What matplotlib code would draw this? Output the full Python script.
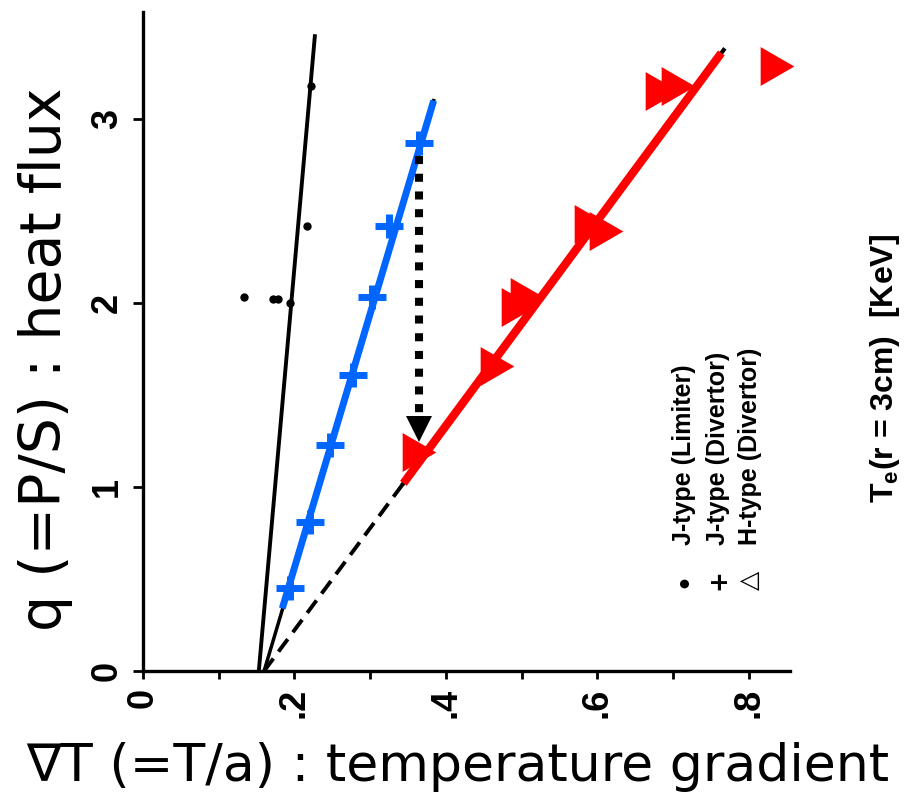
import numpy as np
import matplotlib
matplotlib.use("Agg")
import matplotlib.pyplot as plt
from matplotlib.path import Path

# heat flux q vs temperature gradient, three discharge types
# J-type (Limiter): points and fitted line
lim_grad = [0.134, 0.172, 0.178, 0.194, 0.216, 0.222]
lim_flux = [2.03, 2.02, 2.02, 2.00, 2.42, 3.18]
lim_fit_grad = [0.153, 0.227]
lim_fit_flux = [0.0, 3.45]

# J-type (Divertor)
div_grad = [0.194, 0.221, 0.247, 0.278, 0.303, 0.325, 0.365]
div_flux = [0.45, 0.81, 1.23, 1.61, 2.03, 2.42, 2.87]
div_fit_grad = [0.160, 0.184, 0.384]
div_fit_flux = [0.0, 0.34, 3.10]

# H-type (Divertor)
h_grad = [0.364, 0.467, 0.496, 0.507, 0.592, 0.612, 0.685, 0.707, 0.837]
h_flux = [1.19, 1.66, 1.98, 2.03, 2.43, 2.39, 3.15, 3.18, 3.29]
h_fit_grad = [0.160, 0.344, 0.767]
h_fit_flux = [0.0, 1.02, 3.375]

# J -> H shift at constant gradient
arrow_grad = 0.364
arrow_flux = [2.80, 1.315]

xticks = [0, 0.2, 0.4, 0.6, 0.8]
xtick_labels = ["0", ".2", ".4", ".6", ".8"]
xminor = [0.1, 0.3, 0.5, 0.7]
yticks = [0, 1, 2, 3]
ytick_labels = ["0", "1", "2", "3"]

legend_labels = ["J-type (Limiter)", "J-type (Divertor)", "H-type (Divertor)"]
legend_symbols = ["\u2022", "+", "\u25b3"]

plt.rcParams["font.family"] = ["Liberation Sans", "DejaVu Sans"]
plt.rcParams["mathtext.fontset"] = "custom"
plt.rcParams["mathtext.rm"] = "Liberation Sans"
plt.rcParams["mathtext.bf"] = "Liberation Sans:bold"

W, H = 906, 797
fig = plt.figure(figsize=(W / 100, H / 100), dpi=100)


def fx(x):
    return x / W


def fy(y):
    return 1 - y / H


ax = fig.add_axes([fx(143), fy(671), (790 - 143) / W, (671 - 12) / H])
ax.set_xlim(0, (790 - 143) / 757)
ax.set_ylim(0, (671 - 12) / 184)
for s in ["top", "right"]:
    ax.spines[s].set_visible(False)
for s in ["left", "bottom"]:
    ax.spines[s].set_linewidth(2.4)

ax.set_xticks(xticks)
ax.set_xticklabels(xtick_labels, rotation=90, fontsize=26, fontweight="bold")
ax.set_xticks(xminor, minor=True)
ax.set_yticks(yticks)
ax.set_yticklabels(ytick_labels, rotation=90, fontsize=26, fontweight="bold",
                   va="center")
ax.tick_params(axis="x", which="both", direction="out", length=6, width=2, pad=6)
ax.tick_params(axis="y", direction="out", length=7, width=2, pad=6)

tri = Path([(-0.433, 0.5), (0.433, 0.0), (-0.433, -0.5), (-0.433, 0.5)],
           [Path.MOVETO, Path.LINETO, Path.LINETO, Path.CLOSEPOLY])
cross = Path([(-0.5, 0), (0.5, 0), (0, -0.43), (0, 0.43)],
             [Path.MOVETO, Path.LINETO, Path.MOVETO, Path.LINETO])

# limiter: black fit line and dots
ax.plot(lim_fit_grad, lim_fit_flux, color="black", lw=2.8, clip_on=False, zorder=2)
ax.plot(lim_grad, lim_flux, "o", color="black", ms=6, mew=0, clip_on=False, zorder=2)

# divertor J-type: thin black fit, blue overlay, blue crosses
ax.plot([div_fit_grad[0], div_fit_grad[2]], [div_fit_flux[0], div_fit_flux[2]],
        color="black", lw=2.5, clip_on=False, zorder=2)
ax.plot(div_fit_grad[1:], div_fit_flux[1:], color="#0066ff", lw=5,
        solid_capstyle="butt", clip_on=False, zorder=3)
ax.plot(div_grad, div_flux, ls="none", marker=cross, color="#0066ff", ms=20,
        mew=5, clip_on=False, zorder=5)

# H-type: dashed extrapolation to origin, red fit, red triangles
ax.plot(h_fit_grad[:2], h_fit_flux[:2], color="black", lw=2.8, ls=(0, (4, 2.2)),
        clip_on=False, zorder=2)
ax.plot(h_fit_grad[1:], h_fit_flux[1:], color="black", lw=3, clip_on=False, zorder=2)
ax.plot([h_fit_grad[1], h_fit_grad[2] - 0.003], [h_fit_flux[1], h_fit_flux[2] - 0.016],
        color="red", lw=6, solid_capstyle="butt", clip_on=False, zorder=3)
ax.plot(h_grad, h_flux, ls="none", marker=tri, color="red", ms=28, mew=0,
        clip_on=False, zorder=5)

# dotted arrow
ax.plot([arrow_grad, arrow_grad], [arrow_flux[0], arrow_flux[1] + 0.06], color="black",
        lw=5.8, ls=(0, (1, 1.2)), dash_capstyle="butt", clip_on=False, zorder=4)
ax.plot([arrow_grad], [arrow_flux[1]], marker="v", color="black", ms=19, mew=0,
        clip_on=False, zorder=4)

# legend columns
leg_x = [684, 718, 750]
for xx, lab, sym in zip(leg_x, legend_labels, legend_symbols):
    fig.text(fx(xx), fy(545), lab, rotation=90, ha="center", va="bottom",
             fontsize=18, fontweight="bold")
    fig.text(fx(xx), fy(580), sym, rotation=90, ha="center", va="center",
             fontsize=18, fontweight="bold", family=["DejaVu Sans"])

fig.text(fx(885), fy(368), r"T$_\mathbf{e}$(r = 3cm)  [KeV]", rotation=90,
         ha="center", va="center", fontsize=23, fontweight="bold")

# axis titles
fig.text(fx(46), fy(359), "q (=P/S) : heat flux", rotation=90, ha="center",
         va="center", fontsize=41, family=["DejaVu Sans"])
fig.text(fx(458), fy(767), "\u2207T (=T/a) : temperature gradient", ha="center",
         va="center", fontsize=37.5, family=["DejaVu Sans"])

fig.savefig("out.png", dpi=100)
